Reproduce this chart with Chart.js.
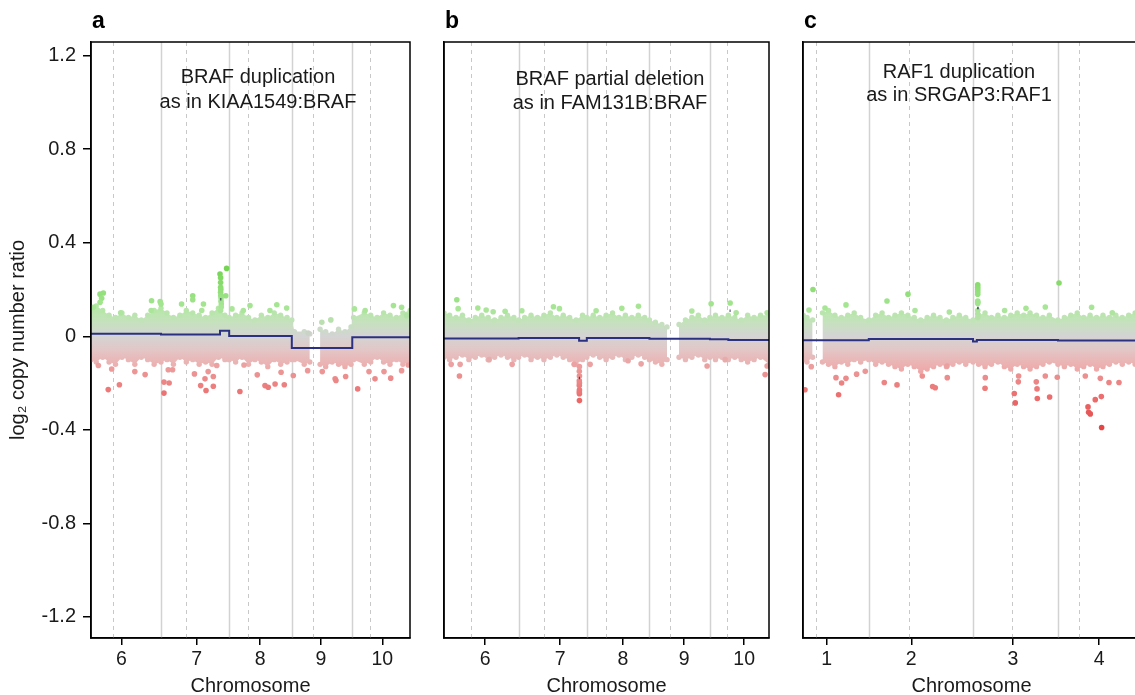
<!DOCTYPE html>
<html>
<head>
<meta charset="utf-8">
<script src="https://cdn.jsdelivr.net/npm/chart.js@4.4.1/dist/chart.umd.min.js"></script>
<style>
  html, body { margin: 0; padding: 0; background: #fff; overflow: hidden; }
  #wrap { position: relative; width: 1135px; height: 695px; overflow: hidden; }
  #wrap canvas { position: absolute; top: 0; }
</style>
</head>
<body>
<div id="wrap">
  <canvas id="panelA" width="430" height="695" style="left:0px"></canvas>
  <canvas id="panelB" width="355" height="695" style="left:430px"></canvas>
  <canvas id="panelC" width="370" height="695" style="left:785px"></canvas>
</div>
<script>
// genomic positions are cumulative Mb from the first chromosome shown in a panel
const chromLabelsAB = ['6', '7', '8', '9', '10'];
const chromLabelsC = ['1', '2', '3', '4'];
const tickPosA = [79, 254, 402, 544, 687];
const tickPosB = [93, 268, 414, 557, 697];
const tickPosC = [151, 348, 585, 786];
const chromBoundsAB = [171, 330, 476, 617];
const centromeresAB = [60, 230, 375, 525, 658];
const chromBoundsC = [249, 492, 690];
const centromeresC = [125, 342, 584, 740];
const yTicks = [-1.2, -0.8, -0.4, 0, 0.4, 0.8, 1.2];

// dense part of the probe cloud: [position, upper edge, lower edge]
const bandA = [
  [8, 0.12, -0.10], [20, 0.13, -0.11], [35, 0.11, -0.09], [50, 0.09, -0.11], [65, 0.08, -0.12],
  [80, 0.10, -0.09], [95, 0.08, -0.10], [110, 0.09, -0.12], [125, 0.07, -0.09], [140, 0.09, -0.10],
  [155, 0.11, -0.12], [171, 0.12, -0.11], [185, 0.10, -0.10], [200, 0.08, -0.12], [215, 0.09, -0.09],
  [230, 0.11, -0.11], [245, 0.10, -0.10], [260, 0.09, -0.12], [275, 0.08, -0.11], [290, 0.10, -0.12],
  [305, 0.12, -0.09], [320, 0.09, -0.10], [330, 0.08, -0.10], [345, 0.09, -0.11], [360, 0.10, -0.09],
  [375, 0.08, -0.12], [390, 0.07, -0.10], [405, 0.09, -0.11], [420, 0.08, -0.13], [435, 0.10, -0.10],
  [450, 0.09, -0.12], [465, 0.08, -0.11], [476, 0.07, -0.10], [482, 0.02, -0.10], [505, 0.02, -0.12],
  [518, 0.01, -0.11], [530, null, null], [542, 0.03, -0.12], [555, 0.02, -0.13], [570, 0.01, -0.11],
  [585, 0.03, -0.12], [600, 0.02, -0.13], [614, 0.04, -0.12], [620, 0.08, -0.10], [645, 0.10, -0.12],
  [660, 0.09, -0.11], [675, 0.08, -0.09], [690, 0.10, -0.11], [705, 0.09, -0.12], [720, 0.08, -0.10],
  [735, 0.10, -0.12], [752, 0.11, -0.11]
];
const bandB = [
  [-3, 0.10, -0.09], [10, 0.09, -0.10], [25, 0.08, -0.09], [40, 0.09, -0.08], [55, 0.07, -0.10],
  [70, 0.08, -0.09], [85, 0.09, -0.08], [100, 0.08, -0.10], [115, 0.07, -0.09], [130, 0.08, -0.08],
  [145, 0.09, -0.09], [160, 0.08, -0.10], [171, 0.07, -0.09], [185, 0.08, -0.08], [200, 0.09, -0.10],
  [215, 0.08, -0.09], [230, 0.09, -0.10], [245, 0.10, -0.09], [260, 0.08, -0.08], [275, 0.09, -0.09],
  [290, 0.08, -0.10], [305, 0.07, -0.12], [320, 0.09, -0.10], [330, 0.08, -0.09], [345, 0.09, -0.08],
  [360, 0.08, -0.09], [375, 0.09, -0.10], [390, 0.10, -0.09], [405, 0.08, -0.08], [420, 0.09, -0.10],
  [435, 0.08, -0.09], [450, 0.09, -0.08], [465, 0.08, -0.09], [476, 0.07, -0.10], [490, 0.06, -0.11],
  [505, 0.05, -0.12], [517, 0.04, -0.10], [531, null, null], [545, 0.05, -0.09], [560, 0.07, -0.10],
  [575, 0.08, -0.09], [590, 0.09, -0.08], [605, 0.07, -0.10], [617, 0.08, -0.09], [630, 0.09, -0.10],
  [645, 0.08, -0.09], [660, 0.09, -0.10], [675, 0.08, -0.09], [690, 0.07, -0.10], [705, 0.09, -0.11],
  [720, 0.08, -0.10], [735, 0.09, -0.09], [755, 0.09, -0.12]
];
const bandC = [
  [96, 0.09, -0.10], [105, 0.08, -0.11], [118, 0.07, -0.09], [130, null, null], [141, 0.10, -0.11],
  [155, 0.11, -0.12], [170, 0.09, -0.13], [185, 0.08, -0.11], [200, 0.09, -0.12], [215, 0.10, -0.10],
  [230, 0.08, -0.11], [249, 0.07, -0.10], [265, 0.09, -0.12], [280, 0.10, -0.11], [295, 0.08, -0.12],
  [310, 0.09, -0.13], [325, 0.10, -0.14], [340, 0.09, -0.12], [355, 0.08, -0.13], [370, 0.07, -0.15],
  [385, 0.08, -0.14], [400, 0.09, -0.13], [415, 0.08, -0.12], [430, 0.07, -0.13], [445, 0.08, -0.12],
  [460, 0.09, -0.11], [475, 0.08, -0.12], [492, 0.07, -0.11], [505, 0.09, -0.12], [520, 0.10, -0.13],
  [535, 0.08, -0.12], [550, 0.09, -0.11], [565, 0.08, -0.13], [580, 0.09, -0.14], [595, 0.10, -0.12],
  [610, 0.09, -0.13], [625, 0.10, -0.14], [640, 0.09, -0.13], [655, 0.08, -0.12], [670, 0.09, -0.11],
  [690, 0.07, -0.12], [705, 0.08, -0.13], [720, 0.09, -0.12], [735, 0.10, -0.14], [750, 0.08, -0.13],
  [765, 0.09, -0.12], [780, 0.08, -0.14], [795, 0.09, -0.13], [810, 0.08, -0.12], [825, 0.09, -0.11],
  [840, 0.08, -0.12], [855, 0.09, -0.11], [870, 0.10, -0.12], [881, 0.09, -0.11]
];

// single probes standing out of the cloud: [position, log2 ratio]
const probesA = [
  [36.5, 0.185], [28.8, 0.18], [32.7, 0.162], [29, 0.145], [13, 0.124], [77, 0.10], [149, 0.152],
  [169, 0.148], [171, 0.138], [148, 0.11], [219, 0.138], [245, 0.173], [245, 0.156], [270, 0.138],
  [266, 0.11], [308.6, 0.266], [324, 0.29], [310, 0.25], [310, 0.23], [310, 0.209], [310.5, 0.2],
  [310, 0.188], [310.5, 0.175], [311, 0.165], [311, 0.15], [311.6, 0.138], [311.5, 0.125], [310, 0.11],
  [322, 0.173], [336.5, 0.117], [363, 0.11], [378.5, 0.131], [425, 0.11], [441, 0.135], [464, 0.121],
  [546, 0.06], [567, 0.07], [514, 0.014], [622, 0.117], [647, 0.11], [713, 0.131], [732, 0.124], [744, 0.088],
  [48, -0.228], [74, -0.207], [56, -0.14], [25, -0.125], [110, -0.151], [134, -0.164], [178, -0.196],
  [178, -0.243], [190, -0.2], [188, -0.143], [198, -0.143], [249, -0.161], [263.5, -0.211], [276, -0.232],
  [273.6, -0.182], [281, -0.151], [293, -0.172], [293, -0.214], [301, -0.125], [355, -0.236], [364.5, -0.123],
  [395.5, -0.165], [413.5, -0.211], [421, -0.218], [437, -0.204], [458.5, -0.207], [451, -0.154],
  [479.5, -0.168], [513, -0.147], [547, -0.151], [577, -0.182], [579, -0.189], [601.6, -0.172],
  [629.6, -0.225], [656, -0.151], [670, -0.182], [691, -0.151], [706.6, -0.179], [732, -0.147], [747.6, -0.123]
];
const probesB = [
  [26.9, 0.156], [30, 0.118], [75.9, 0.121], [95.3, 0.112], [111.6, 0.105], [139.5, 0.107], [178.5, 0.109],
  [252.2, 0.126], [266.1, 0.118], [351.7, 0.109], [411.6, 0.12], [450.4, 0.128], [574.9, 0.108],
  [619.9, 0.139], [664.2, 0.142], [678.2, 0.10], [750.4, 0.10],
  [33, -0.17], [13.7, -0.12], [34.6, -0.12], [102.3, -0.10], [155.9, -0.12], [300.4, -0.12], [337.7, -0.12],
  [426.3, -0.105], [456.6, -0.118], [610.5, -0.127], [652.5, -0.10], [745.7, -0.164], [750.4, -0.127],
  [312.8, -0.275], [312.8, -0.246], [312.5, -0.238], [312.8, -0.23], [312.5, -0.21], [312.8, -0.2],
  [312.5, -0.19], [312.8, -0.17], [312.5, -0.15], [312.8, -0.13]
];
const probesC = [
  [118.9, 0.20], [109.6, 0.112], [146.9, 0.121], [195.8, 0.134], [291.4, 0.151], [340.4, 0.18], [356.7, 0.11],
  [436.7, 0.104], [565.7, 0.11], [615.5, 0.12], [660.5, 0.125], [692.5, 0.228], [768.5, 0.124], [816.7, 0.10],
  [503, 0.22], [503, 0.21], [503, 0.20], [503, 0.19], [503, 0.18], [503, 0.15], [503, 0.145], [503, 0.14],
  [503, 0.11], [503, 0.095], [503, 0.08],
  [100.2, -0.229], [114.9, -0.13], [172.5, -0.177], [185.6, -0.2], [178.6, -0.25], [195.8, -0.18],
  [220.6, -0.162], [240.8, -0.15], [285.1, -0.198], [314.8, -0.208], [373.7, -0.17], [397.8, -0.215],
  [404, -0.22], [432, -0.177], [431.3, -0.127], [520, -0.222], [520.6, -0.177], [588.2, -0.245],
  [590.5, -0.285], [597.6, -0.195], [598.3, -0.17], [641.2, -0.225], [641.9, -0.266], [670.6, -0.26],
  [639.5, -0.195], [660.5, -0.17], [688.5, -0.175], [760.1, -0.302], [761.5, -0.325], [765.4, -0.332],
  [777, -0.271], [791.1, -0.258], [791.8, -0.39], [809, -0.198], [832.3, -0.198], [753.8, -0.17], [788.8, -0.18]
];

// segmented copy number: [start, end, mean log2 ratio]
const segmentsA = [[8, 171, 0.011], [171, 308.6, 0.007], [308.6, 330, 0.024], [330, 476, 0.001], [476, 617, -0.05], [617, 752, -0.004]];
const segmentsB = [[-3, 171, -0.010], [171, 312, -0.007], [312, 330, -0.019], [330, 476, -0.007], [476, 617, -0.011], [617, 660, -0.013], [660, 755, -0.016]];
const segmentsC = [[96, 249, -0.017], [249, 492, -0.012], [492, 501, -0.022], [501, 690, -0.016], [690, 881, -0.018]];
const focalA = [[309.5, 311.6, 0.158]];
const focalB = [[311.5, 313.5, -0.178], [663, 665, 0.109]];
const focalC = [[502, 505, 0.121]];

const FONT = 'Liberation Sans, Arial, Helvetica, sans-serif';
const colourStops = [
  [-0.40, [228, 66, 66]], [-0.25, [236, 112, 112]], [-0.12, [236, 162, 162]], [-0.05, [222, 192, 192]],
  [0, [206, 206, 206]], [0.05, [190, 222, 182]], [0.12, [168, 230, 150]], [0.30, [112, 212, 78]]
];

function colourFor(v, fade) {
  fade = fade || 0;
  let c = colourStops[colourStops.length - 1][1];
  if (v <= colourStops[0][0]) c = colourStops[0][1];
  else {
    for (let i = 1; i < colourStops.length; i++) {
      const [v1, c1] = colourStops[i];
      if (v <= v1) {
        const [v0, c0] = colourStops[i - 1];
        const t = (v - v0) / (v1 - v0);
        c = c0.map((k, j) => k + (c1[j] - k) * t);
        break;
      }
    }
  }
  return 'rgb(' + c.map(k => Math.round(k + (255 - k) * fade)).join(',') + ')';
}

function bandGradient(context) {
  const chart = context.chart;
  const area = chart.chartArea;
  if (!area) return 'rgba(0,0,0,0)';
  const y = chart.scales.y;
  const top = y.getPixelForValue(0.14);
  const bottom = y.getPixelForValue(-0.14);
  const g = chart.ctx.createLinearGradient(0, top, 0, bottom);
  [0.14, 0.10, 0.06, 0.03, 0, -0.03, -0.06, -0.10, -0.14].forEach(v => {
    g.addColorStop((0.14 - v) / 0.28, colourFor(v * 0.9, 0.12));
  });
  return g;
}

function bandDatasets(band) {
  const pieces = [];
  let cur = [];
  band.forEach(row => {
    if (row[1] === null) { if (cur.length) pieces.push(cur); cur = []; }
    else cur.push(row);
  });
  if (cur.length) pieces.push(cur);
  const sets = [];
  const dots = {
    pointRadius: 2.7, pointBorderWidth: 0,
    pointBackgroundColor: c => colourFor(c.raw ? c.raw.y * 0.9 : 0, 0.1)
  };
  pieces.forEach(p => {
    sets.push(Object.assign({
      type: 'line', data: p.map(r => ({ x: r[0], y: r[1] })),
      borderWidth: 0, tension: 0, fill: '+1',
      backgroundColor: bandGradient, borderColor: 'rgba(0,0,0,0)'
    }, dots));
    sets.push(Object.assign({
      type: 'line', data: p.map(r => ({ x: r[0], y: r[2] })),
      borderWidth: 0, tension: 0, fill: false, borderColor: 'rgba(0,0,0,0)'
    }, dots));
  });
  return sets;
}

function segmentData(segs) {
  const pts = [];
  segs.forEach(s => { pts.push({ x: s[0], y: s[2] }, { x: s[1], y: s[2] }); });
  return pts;
}

function focalData(segs) {
  const pts = [];
  segs.forEach(s => { pts.push({ x: s[0], y: s[2] }, { x: s[1], y: s[2] }, { x: s[1], y: null }); });
  return pts;
}

const panelDecor = {
  id: 'panelDecor',
  beforeDatasetsDraw(chart, args, opts) {
    const { ctx, chartArea: a, scales: { x } } = chart;
    ctx.save();
    ctx.strokeStyle = '#d2d2d2';
    ctx.lineWidth = 1.5;
    opts.bounds.forEach(b => {
      const px = Math.round(x.getPixelForValue(b)) + 0.5;
      ctx.beginPath(); ctx.moveTo(px, a.top); ctx.lineTo(px, a.bottom); ctx.stroke();
    });
    ctx.lineWidth = 1;
    ctx.strokeStyle = '#c8c8c8';
    ctx.setLineDash([4, 4]);
    opts.centromeres.forEach(b => {
      const px = Math.round(x.getPixelForValue(b)) + 0.5;
      ctx.beginPath(); ctx.moveTo(px, a.top); ctx.lineTo(px, a.bottom); ctx.stroke();
    });
    ctx.restore();
  },
  afterDraw(chart, args, opts) {
    const { ctx, chartArea: a } = chart;
    ctx.save();
    ctx.strokeStyle = '#000';
    ctx.lineWidth = 1.5;
    ctx.strokeRect(a.left, a.top, a.right - a.left, a.bottom - a.top);
    ctx.fillStyle = '#000';
    ctx.font = 'bold 23px ' + FONT;
    ctx.textAlign = 'left';
    ctx.textBaseline = 'alphabetic';
    ctx.fillText(opts.letter, a.left + 1, 28);
    ctx.font = '20px ' + FONT;
    ctx.fillStyle = '#1a1a1a';
    ctx.textAlign = 'center';
    opts.lines.forEach((t, i) => ctx.fillText(t, a.left + opts.textX, opts.baselines[i]));
    ctx.restore();
  }
};

function makePanel(id, cfg) {
  const datasets = [
    {
      type: 'line', data: segmentData(cfg.segments), borderColor: '#2b3180', borderWidth: 2,
      pointRadius: 0, fill: false, tension: 0
    },
    {
      type: 'line', data: focalData(cfg.focal), borderColor: '#1e2050', borderWidth: 2.5,
      pointRadius: 0, fill: false, spanGaps: false
    },
    {
      type: 'scatter', data: cfg.probes.map(p => ({ x: p[0], y: p[1] })),
      pointRadius: 2.8, pointHoverRadius: 2.8, borderWidth: 0,
      pointBackgroundColor: c => colourFor(c.raw ? c.raw.y : 0)
    }
  ].concat(bandDatasets(cfg.band));

  return new Chart(document.getElementById(id), {
    type: 'scatter',
    data: { datasets },
    plugins: [panelDecor],
    options: {
      responsive: false,
      animation: false,
      events: [],
      layout: { padding: { top: 42, right: cfg.padRight, left: 0, bottom: 0 } },
      plugins: {
        legend: { display: false },
        tooltip: { enabled: false },
        panelDecor: {
          letter: cfg.letter, lines: cfg.lines, textX: cfg.textX, baselines: cfg.baselines,
          bounds: cfg.bounds, centromeres: cfg.centromeres
        }
      },
      scales: {
        x: {
          type: 'linear', min: cfg.xMin, max: cfg.xMax,
          afterBuildTicks: scale => { scale.ticks = cfg.tickPos.map(v => ({ value: v })); },
          afterFit: scale => { scale.height = 57; },
          ticks: {
            callback: (v, i) => cfg.tickLabels[i],
            color: '#1a1a1a', font: { family: FONT, size: 19.5 }, padding: 3, maxRotation: 0, autoSkip: false
          },
          grid: { drawOnChartArea: false, drawTicks: true, tickLength: 7, color: '#000', lineWidth: 1.5 },
          border: { display: true, color: '#000', width: 1.5 },
          title: {
            display: true, text: 'Chromosome', color: '#1a1a1a',
            font: { family: FONT, size: 20, lineHeight: 1 }, padding: { top: 0, bottom: -1 }
          }
        },
        y: {
          type: 'linear', min: -1.29, max: 1.258,
          afterBuildTicks: scale => { scale.ticks = yTicks.map(v => ({ value: v })); },
          afterFit: scale => { scale.width = cfg.yWidth; },
          ticks: {
            display: cfg.showY,
            callback: v => (v === 0 ? '0' : v.toFixed(1)),
            color: '#1a1a1a', font: { family: FONT, size: 20 }, padding: 7
          },
          grid: { display: cfg.showY, drawOnChartArea: false, drawTicks: true, tickLength: 8, color: '#000', lineWidth: 1.5 },
          border: { display: true, color: '#000', width: 1.5 },
          title: {
            display: cfg.showY, text: 'log\u2082 copy number ratio', color: '#1a1a1a',
            font: { family: FONT, size: 20 }, padding: { top: 6, bottom: 0 }
          }
        }
      }
    }
  });
}

makePanel('panelA', {
  letter: 'a', lines: ['BRAF duplication', 'as in KIAA1549:BRAF'], textX: 167, baselines: [83, 107.5],
  xMin: 7.8, xMax: 751.6, yWidth: 91, padRight: 20, showY: true,
  tickPos: tickPosA, tickLabels: chromLabelsAB, bounds: chromBoundsAB, centromeres: centromeresAB,
  band: bandA, probes: probesA, segments: segmentsA, focal: focalA
});
makePanel('panelB', {
  letter: 'b', lines: ['BRAF partial deletion', 'as in FAM131B:BRAF'], textX: 166, baselines: [85, 108.5],
  xMin: -3, xMax: 754.8, yWidth: 14, padRight: 16, showY: false,
  tickPos: tickPosB, tickLabels: chromLabelsAB, bounds: chromBoundsAB, centromeres: centromeresAB,
  band: bandB, probes: probesB, segments: segmentsB, focal: focalB
});
makePanel('panelC', {
  letter: 'c', lines: ['RAF1 duplication', 'as in SRGAP3:RAF1'], textX: 156, baselines: [77.5, 100.7],
  xMin: 95.6, xMax: 881.3, yWidth: 18, padRight: 15, showY: false,
  tickPos: tickPosC, tickLabels: chromLabelsC, bounds: chromBoundsC, centromeres: centromeresC,
  band: bandC, probes: probesC, segments: segmentsC, focal: focalC
});
</script>
</body>
</html>
